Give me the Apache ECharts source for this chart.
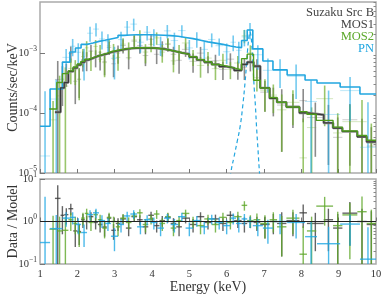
<!DOCTYPE html>
<html><head><meta charset="utf-8">
<script src="https://cdn.jsdelivr.net/npm/echarts@6/dist/echarts.min.js"></script>
<style>html,body{margin:0;padding:0;background:#fff}#c{width:382px;height:295px}</style>
</head><body><div id="c"></div>
<script>
// ---------- DATA ----------
const pnEdges = [1.0,1.27,1.6,1.8,1.95,2.1,2.26,2.42,2.58,2.74,2.9,3.09,3.25,3.42,3.6,3.78,3.96,4.14,4.32,4.5,4.7,4.9,5.1,5.3,5.5,5.7,5.9,6.1,6.25,6.4,6.55,6.7,6.97,7.24,7.62,8.1,8.42,9.04,9.57,10.0];
const pnModel = [6.0e-5,2.5e-4,7.0e-4,1.03e-3,1.2e-3,1.38e-3,1.46e-3,1.55e-3,1.62e-3,1.7e-3,1.8e-3,1.95e-3,1.98e-3,2.0e-3,2.0e-3,2.0e-3,1.98e-3,1.96e-3,1.93e-3,1.88e-3,1.8e-3,1.72e-3,1.62e-3,1.52e-3,1.45e-3,1.38e-3,1.3e-3,1.25e-3,1.22e-3,1.6e-3,2.4e-3,1.16e-3,7.3e-4,5.2e-4,4.27e-4,3.52e-4,3.14e-4,2.7e-4,2.06e-4];
const pnRatio = [0.32,0.68,1.2,1.25,0.85,0.55,1.45,1.6,1.05,0.9,0.45,0.85,1.35,1.5,0.75,1.1,0.95,0.7,1.2,0.85,1.3,0.7,1.05,0.75,1.15,0.95,0.8,1.2,0.9,1.15,1.0,0.8,0.7,1.0,0.95,0.44,0.3,0.87,0.13];
const pnErr   = [3.5,0.75,0.45,0.4,0.35,0.3,0.4,0.4,0.35,0.3,0.25,0.3,0.35,0.35,0.25,0.3,0.3,0.25,0.3,0.3,0.3,0.25,0.3,0.25,0.3,0.3,0.3,0.35,0.35,0.35,0.3,0.35,0.4,0.5,0.55,0.55,0.45,0.6,0.6];

const mos1Edges = [1.40,1.55,1.65,1.76,1.89,2.0,2.1,2.2,2.3,2.43,2.55,2.67,2.79,2.91,3.03,3.15,3.3,3.45,3.6,3.75,3.9,4.05,4.2,4.35,4.5,4.65,4.8,5.0,5.2,5.4,5.6,5.8,6.0,6.2,6.4,6.55,6.72,6.9,7.15,7.35,7.6,7.95,8.15,8.6,8.85,9.1,9.5,9.75,10.0];
const mos1Model = [1.03e-4,2.6e-4,3.2e-4,4.9e-4,5.6e-4,6.3e-4,7.0e-4,7.6e-4,8.2e-4,8.8e-4,9.2e-4,9.6e-4,1.02e-3,1.06e-3,1.1e-3,1.15e-3,1.18e-3,1.2e-3,1.2e-3,1.2e-3,1.2e-3,1.18e-3,1.15e-3,1.1e-3,1.05e-3,1.0e-3,9.5e-4,8.5e-4,7.6e-4,7.0e-4,6.4e-4,5.9e-4,5.6e-4,5.1e-4,6.4e-4,7.0e-4,6.0e-4,2.6e-4,1.75e-4,1.5e-4,1.25e-4,1.0e-4,9.3e-5,6.8e-5,5.6e-5,4.9e-5,4.0e-5,3.3e-5];
const mos1Ratio = [3.5,1.4,1.45,2.0,0.6,0.58,1.1,1.0,1.3,0.95,0.85,0.74,1.2,0.62,0.9,1.15,0.7,1.3,1.1,0.75,1.4,0.8,1.05,1.25,0.9,0.75,1.2,0.85,1.3,0.95,1.15,0.9,1.4,1.05,0.9,1.0,0.95,0.85,1.0,0.9,1.05,1.6,0.9,1.1,0.7,1.57,1.0,0.85];
const mos1Err   = [3.6,0.9,0.6,0.6,0.35,0.3,0.4,0.35,0.35,0.3,0.3,0.3,0.3,0.25,0.3,0.3,0.25,0.3,0.3,0.25,0.3,0.25,0.3,0.3,0.3,0.3,0.3,0.3,0.35,0.3,0.3,0.3,0.35,0.35,0.35,0.3,0.35,0.45,0.5,0.75,0.6,0.9,0.7,0.9,0.8,1.3,1.0,0.9];

const mos2Edges = [1.25,1.45,1.6,1.76,1.89,2.0,2.1,2.2,2.3,2.43,2.55,2.67,2.79,2.91,3.03,3.15,3.3,3.45,3.6,3.75,3.9,4.05,4.2,4.35,4.5,4.65,4.8,5.0,5.2,5.4,5.6,5.8,6.0,6.2,6.4,6.55,6.72,6.9,7.15,7.35,7.6,7.95,8.15,8.4,8.85,9.1,9.5,9.75,10.0];
const mos2Model = [1.16e-4,3.2e-4,4.5e-4,5.0e-4,5.8e-4,6.5e-4,7.2e-4,7.8e-4,8.3e-4,8.8e-4,9.3e-4,9.8e-4,1.04e-3,1.08e-3,1.12e-3,1.16e-3,1.19e-3,1.21e-3,1.22e-3,1.21e-3,1.2e-3,1.18e-3,1.14e-3,1.1e-3,1.05e-3,1.0e-3,9.4e-4,8.6e-4,7.7e-4,7.1e-4,6.4e-4,6.0e-4,5.6e-4,5.2e-4,8.0e-4,9.5e-4,3.5e-4,2.6e-4,1.8e-4,1.5e-4,1.25e-4,1.05e-4,9.5e-5,7.5e-5,5.8e-5,5.0e-5,4.2e-5,3.5e-5];
const mos2Ratio = [0.66,0.6,0.62,1.1,0.9,0.55,1.2,1.55,0.95,1.45,1.1,0.7,1.25,1.0,0.75,1.2,0.95,1.35,1.6,0.85,1.15,1.5,0.9,1.3,0.7,1.05,1.55,1.0,0.8,1.15,0.85,1.25,0.95,1.3,2.4,1.05,1.1,0.9,1.1,0.75,1.2,0.17,0.6,2.3,0.8,1.43,1.7,0.9];
const mos2Err   = [0.7,0.7,0.65,0.5,0.4,0.3,0.4,0.45,0.35,0.4,0.35,0.3,0.35,0.3,0.3,0.3,0.3,0.3,0.35,0.3,0.3,0.35,0.3,0.3,0.25,0.3,0.35,0.3,0.3,0.3,0.3,0.35,0.3,0.4,0.6,0.35,0.45,0.5,0.55,0.6,0.7,0.6,0.7,1.5,0.9,1.3,2.2,1.0];

// Fe line gaussian component (PN)
const feLineE = [6.05,6.11,6.2,6.28,6.36,6.43,6.49,6.53,6.56,6.6,6.625,6.65,6.67,6.7,6.73,6.77,6.8,6.84,6.88,6.92];
const feLineV = [5e-6,1e-5,1.9e-5,3.3e-5,5.9e-5,1.3e-4,3.1e-4,6.2e-4,1.11e-3,1.9e-3,2.24e-3,1.9e-3,1.44e-3,7.5e-4,3.1e-4,1.3e-4,5.9e-5,2.4e-5,1.0e-5,5e-6];

const topMin = 1e-5, topMax = 7e-3;
const ratioMin = 0.1, ratioMax = 10;
const topExp = [-5,-4,-3];
const ratioExp = [-1,0,1];

// ---------- BUILD ----------
const L = Math.log10;
const FONT = '"Liberation Serif", "DejaVu Serif", serif';
function clampL(v, lo, hi){ return Math.min(Math.max(L(Math.max(v,1e-12)), L(lo)), L(hi)); }
function build(edges, model, ratio, err){
  const top=[], bot=[], step=[];
  for (let i=0;i<model.length;i++){
    const m=model[i], r=ratio[i], e=err[i];
    top.push([edges[i], edges[i+1], L(r*m), clampL((r-e)*m,topMin,topMax), clampL((r+e)*m,topMin,topMax)]);
    bot.push([edges[i], edges[i+1], L(r), clampL(r-e,ratioMin,ratioMax), clampL(r+e,ratioMin,ratioMax)]);
    step.push([edges[i], L(m)], [edges[i+1], L(m)]);
  }
  return {top, bot, step};
}
const pn = build(pnEdges, pnModel, pnRatio, pnErr);
const m1 = build(mos1Edges, mos1Model, mos1Ratio, mos1Err);
const m2 = build(mos2Edges, mos2Model, mos2Ratio, mos2Err);
const feLine = feLineE.map((e,i)=>[e, L(feLineV[i])]);

function minorList(e0, e1){
  const out=[];
  for (let e=e0;e<e1;e++) for (let k=2;k<=9;k++) out.push(e+L(k));
  return out;
}

function errSeries(d, xi, yi, color, opacity, width, hOpacity, hWidth){
  return {
    type:'custom', xAxisIndex:xi, yAxisIndex:yi, clip:true, silent:true,
    data:d, encode:{x:[0,1], y:[2,3,4]},
    renderItem:function(params, api){
      const x0=api.value(0), x1=api.value(1), y=api.value(2), lo=api.value(3), hi=api.value(4);
      const xm=(x0+x1)/2;
      const a=api.coord([x0,y]), b=api.coord([x1,y]), c=api.coord([xm,lo]), dd=api.coord([xm,hi]);
      return {type:'group', children:[
        {type:'line', shape:{x1:a[0],y1:a[1],x2:b[0],y2:b[1]}, style:{stroke:color, lineWidth:hWidth, opacity:hOpacity}},
        {type:'line', shape:{x1:c[0],y1:c[1],x2:dd[0],y2:dd[1]}, style:{stroke:color, lineWidth:width, opacity:opacity}}
      ]};
    }
  };
}
function stepSeries(d, color, width, z){
  return {type:'line', xAxisIndex:0, yAxisIndex:0, data:d, showSymbol:false, symbol:'none',
    lineStyle:{color:color, width:width}, z:z, silent:true, clip:true};
}

const supLabel = {
  fontFamily:FONT, color:'#333',
  formatter: v => '{b|10}{s|' + (v<0?'\u2212':'') + Math.abs(Math.round(v)) + '}',
  rich:{ b:{fontSize:10.5, lineHeight:16, fontFamily:FONT, color:'#333'},
         s:{fontSize:7.5, lineHeight:8, verticalAlign:'top', fontFamily:FONT, color:'#333'} }
};

const chart = echarts.init(document.getElementById('c'), null, {renderer:'canvas'});
chart.setOption({
  animation:false,
  backgroundColor:'#fff',
  grid:[
    {left:40, top:2, width:336, height:171, show:true, borderColor:'#aaa', borderWidth:1.5, backgroundColor:'transparent', outerBoundsMode:'none', containLabel:false},
    {left:40, top:179, width:336, height:85, show:true, borderColor:'#aaa', borderWidth:1.5, backgroundColor:'transparent', outerBoundsMode:'none', containLabel:false}
  ],
  xAxis:[
    {type:'value', gridIndex:0, min:1, max:10, interval:1,
     axisLine:{show:false}, splitLine:{show:false},
     axisTick:{inside:true, length:4, lineStyle:{color:'#777'}}, axisLabel:{show:false}},
    {type:'value', gridIndex:1, min:1, max:10, interval:1,
     axisLine:{show:false}, splitLine:{show:false},
     axisTick:{inside:true, length:4, lineStyle:{color:'#777'}},
     axisLabel:{fontFamily:FONT, fontSize:10.5, color:'#333', margin:5},
     name:'Energy (keV)', nameLocation:'middle', nameGap:16, nameMoveOverlap:false,
     nameTextStyle:{fontFamily:FONT, fontSize:14, color:'#333'}}
  ],
  yAxis:[
    {type:'value', gridIndex:0, min:-5, max:L(topMax),
     axisLine:{show:false}, splitLine:{show:false},
     axisTick:{inside:true, length:5, customValues:topExp, lineStyle:{color:'#777'}},
     axisLabel:Object.assign({customValues:topExp, margin:3}, supLabel),
     name:'Counts/sec/keV', nameLocation:'middle', nameGap:20, nameRotate:90, nameMoveOverlap:false,
     nameTextStyle:{fontFamily:FONT, fontSize:14, color:'#333'}},
    {type:'value', gridIndex:0, min:-5, max:L(topMax),
     axisLine:{show:false}, splitLine:{show:false}, axisLabel:{show:false},
     axisTick:{inside:true, length:2.5, customValues:minorList(-5,-2), lineStyle:{color:'#888'}}},
    {type:'value', gridIndex:1, min:-1, max:1,
     axisLine:{show:false}, splitLine:{show:false},
     axisTick:{inside:true, length:5, customValues:ratioExp, lineStyle:{color:'#777'}},
     axisLabel:Object.assign({customValues:ratioExp, margin:3}, supLabel),
     name:'Data / Model', nameLocation:'middle', nameGap:20, nameRotate:90, nameMoveOverlap:false,
     nameTextStyle:{fontFamily:FONT, fontSize:14, color:'#333'}},
    {type:'value', gridIndex:1, min:-1, max:1,
     axisLine:{show:false}, splitLine:{show:false}, axisLabel:{show:false},
     axisTick:{inside:true, length:2.5, customValues:minorList(-1,1), lineStyle:{color:'#888'}}}
  ],
  series:[
    errSeries(m1.top, 0, 0, '#5a5a5a', 0.7, 1.6, 0.3, 1),
    errSeries(m2.top, 0, 0, '#6fae2e', 0.7, 1.6, 0.3, 1),
    errSeries(pn.top, 0, 0, '#2aaee6', 0.65, 1.6, 0.3, 1),
    stepSeries(pn.step, '#22a6e0', 1.6, 5),
    stepSeries(m1.step, '#8a8a8a', 2.6, 4),
    stepSeries(m1.step, '#3a3a3a', 1.2, 6),
    stepSeries(m2.step, '#4e9c1c', 1.4, 7),
    {type:'line', xAxisIndex:0, yAxisIndex:0, data:feLine, smooth:true, showSymbol:false, symbol:'none',
     lineStyle:{color:'#22a6e0', width:1.2, type:[4,3]}, clip:true, silent:true, z:5},
    {type:'line', xAxisIndex:1, yAxisIndex:2, data:[[1,0],[10,0]], showSymbol:false, symbol:'none',
     lineStyle:{color:'#222', width:1.1}, silent:true, z:8},
    errSeries(m1.bot, 1, 2, '#3f3f3f', 0.8, 1.4, 0.8, 1.4),
    errSeries(m2.bot, 1, 2, '#5fa82a', 0.8, 1.4, 0.8, 1.4),
    errSeries(pn.bot, 1, 2, '#1fa8e4', 0.8, 1.4, 0.8, 1.4)
  ],
  graphic:[
    {type:'text', x:374, y:13, style:{text:'Suzaku Src B', fill:'#444', font:'12.5px '+FONT, textAlign:'right', textVerticalAlign:'middle'}},
    {type:'text', x:374, y:25, style:{text:'MOS1', fill:'#444', font:'12.5px '+FONT, textAlign:'right', textVerticalAlign:'middle'}},
    {type:'text', x:374, y:37, style:{text:'MOS2', fill:'#5ba829', font:'12.5px '+FONT, textAlign:'right', textVerticalAlign:'middle'}},
    {type:'text', x:374, y:49, style:{text:'PN', fill:'#1ea5e0', font:'12.5px '+FONT, textAlign:'right', textVerticalAlign:'middle'}}
  ]
});
</script></body></html>
